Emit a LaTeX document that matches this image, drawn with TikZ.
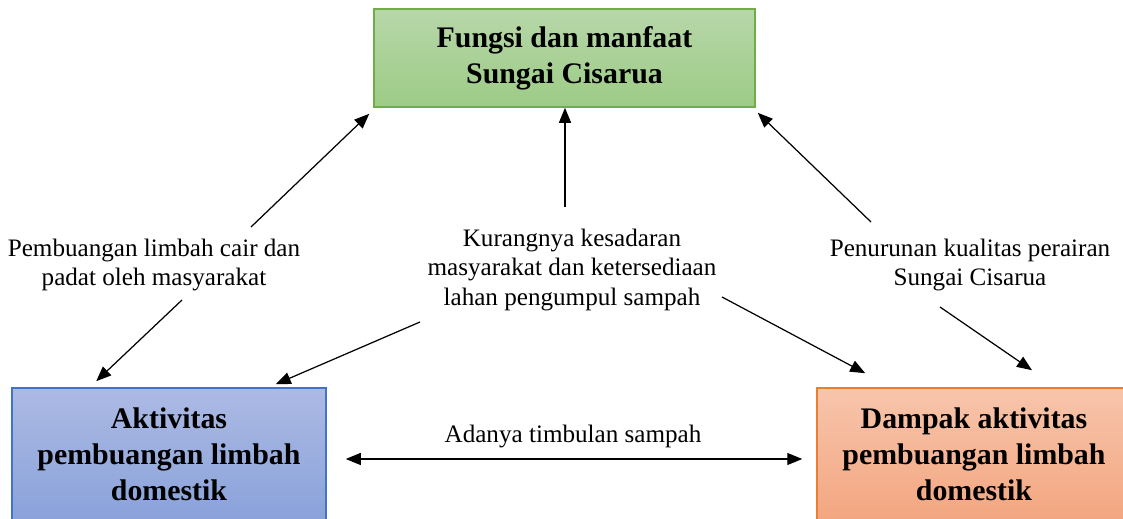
\documentclass[tikz,border=0pt]{standalone}
\usepackage{fontspec}
\setmainfont{Liberation Serif}
\usetikzlibrary{arrows.meta}
\definecolor{grnline}{RGB}{112,173,71}
\definecolor{grntop}{RGB}{183,215,169}
\definecolor{grnbot}{RGB}{157,203,134}
\definecolor{bluline}{RGB}{68,114,196}
\definecolor{blutop}{RGB}{172,186,228}
\definecolor{blubot}{RGB}{138,162,218}
\definecolor{orgline}{RGB}{237,125,49}
\definecolor{orgtop}{RGB}{247,197,172}
\definecolor{orgbot}{RGB}{243,166,128}
\begin{document}
\begin{tikzpicture}[x=0.02cm, y=-0.02cm,
      every node/.style = {align=center, inner sep=0pt},
      box/.style = {draw, line width=0.9pt, font=\fontsize{17}{20.4}\selectfont\bfseries},
      greenbox/.style = {box, draw=grnline, top color=grntop, bottom color=grnbot, minimum width=7.62cm, minimum height=1.96cm},
      bluebox/.style = {box, draw=bluline, top color=blutop, bottom color=blubot, minimum width=6.28cm, minimum height=2.64cm},
      orangebox/.style = {box, draw=orgline, top color=orgtop, bottom color=orgbot, minimum width=6.28cm, minimum height=2.64cm},
      lbl/.style = {font=\fontsize{14.3}{17}\selectfont},
      arr/.style = {-{Triangle[length=0.3cm, width=0.24cm]}, line width=0.7pt},
      dblarr/.style = {{Triangle[length=0.3cm, width=0.24cm]}-{Triangle[length=0.3cm, width=0.24cm]}, line width=0.7pt}]
  \useasboundingbox (0,0) rectangle (1123,519);
  % boxes
  \node[greenbox] (fungsi) at (564.5,58) {Fungsi dan manfaat\\Sungai Cisarua};
  \node[bluebox] (aktivitas) at (169,454) {Aktivitas\\pembuangan limbah\\domestik};
  \node[orangebox] (dampak) at (974,454) {Dampak aktivitas\\pembuangan limbah\\domestik};
  % labels
  \node[lbl] (buang) at (154,265) {Pembuangan limbah cair dan\\padat oleh masyarakat};
  \node[lbl] (sadar) at (572,270) {Kurangnya kesadaran\\masyarakat dan ketersediaan\\lahan pengumpul sampah};
  \node[lbl] (turun) at (970,265) {Penurunan kualitas perairan\\Sungai Cisarua};
  \node[lbl] (timbul) at (573,436) {Adanya timbulan sampah};
  % arrow starts
  \coordinate (s1) at (251,227);
  \coordinate (s2) at (182,300);
  \coordinate (s3) at (565,207);
  \coordinate (s4) at (420,322);
  \coordinate (s5) at (722,297);
  \coordinate (s6) at (871,222);
  \coordinate (s7) at (940,307);
  % arrows
  \draw[arr] (s1) -- ([xshift=-0.08cm, yshift=-0.12cm]fungsi.south west);
  \draw[arr] (s2) -- ([xshift=1.7cm, yshift=0.12cm]aktivitas.north west);
  \draw[arr] (s3) -- (s3 |- fungsi.south);
  \draw[arr] (s4) -- ([xshift=-1.02cm, yshift=0.06cm]aktivitas.north east);
  \draw[arr] (s5) -- ([xshift=0.98cm, yshift=0.28cm]dampak.north west);
  \draw[arr] (s6) -- ([xshift=0.04cm, yshift=-0.1cm]fungsi.south east);
  \draw[arr] (s7) -- ([xshift=1.16cm, yshift=0.34cm]dampak.north);
  \draw[dblarr] ([xshift=0.38cm, yshift=-0.1cm]aktivitas.east) -- ([xshift=-0.28cm, yshift=-0.1cm]dampak.west);
\end{tikzpicture}
\end{document}
